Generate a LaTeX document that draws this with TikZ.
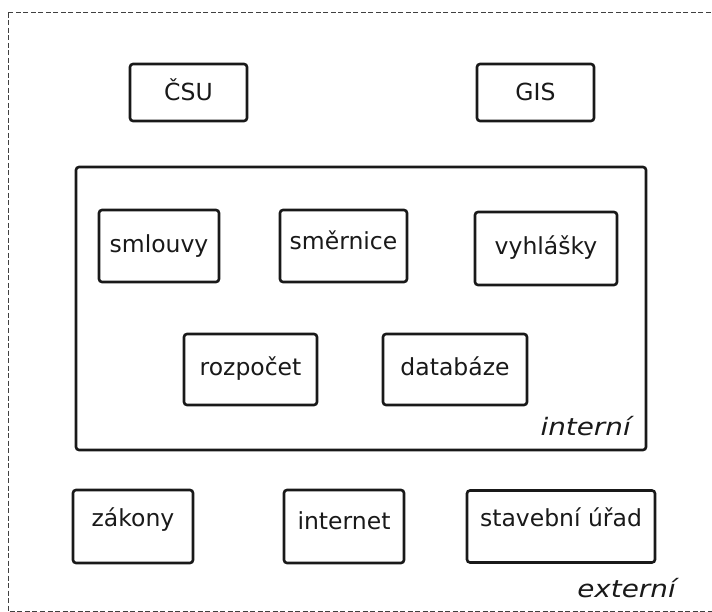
\documentclass[tikz,border=0pt]{standalone}
\usepackage{fontspec}
\setmainfont{DejaVu Sans}
\begin{document}
\begin{tikzpicture}[x=1pt,y=-1pt,
  box/.style={draw=black!90, line width=2.6pt, rounded corners=3pt, inner sep=0pt,
    text height=18pt, text depth=5.5pt,
    font=\fontsize{23.5}{26}\selectfont, text=black!90},
  up/.style={text depth=5.5pt+2*#1},
  down/.style={text height=18pt+2*#1},
  lbl/.style={inner sep=0pt, font=\fontsize{24}{26}\selectfont\itshape, text=black!90}]
\useasboundingbox (0,0) rectangle (712,612);
\begin{scope}
\clip (0,0) rectangle (712,612);
\draw[black!75, line width=1pt, dash pattern=on 5pt off 2.5pt] (8,13) rectangle (740,611);
\end{scope}
\node[box, down=2pt, minimum width=117pt, minimum height=57pt] (csu) at (188.5,92.5) {ČSU};
\node[box, down=2pt, minimum width=117pt, minimum height=57pt] (gis) at (535.5,92.5) {GIS};
\node[draw=black!90, line width=2.6pt, rounded corners=3pt, minimum width=570pt, minimum height=283pt, inner sep=0pt] (int) at (361,308.5) {};
\node[box, minimum width=120pt, minimum height=72pt] (sml) at (159,246) {smlouvy};
\node[box, up=3pt, minimum width=127pt, minimum height=72pt] (smer) at (343.5,246) {směrnice};
\node[box, minimum width=142pt, minimum height=73pt] (vyh) at (546,248.5) {vyhlášky};
\node[box, minimum width=133pt, minimum height=71pt] (roz) at (250.5,369.5) {rozpočet};
\node[box, minimum width=144pt, minimum height=71pt] (dat) at (455,369.5) {databáze};
\node[lbl, anchor=base east] (intl) at (631,435) {\scalebox{1.16}[1]{interní}};
\node[box, up=6pt, minimum width=120pt, minimum height=73pt] (zak) at (133,526.5) {zákony};
\node[box, up=3pt, minimum width=120pt, minimum height=73pt] (inet) at (344,526.5) {internet};
\node[box, up=6pt, minimum width=188pt, minimum height=72pt] (sta) at (561,526.5) {stavební úřad};
\node[lbl, anchor=base east] (extl) at (676,597) {\scalebox{1.16}[1]{externí}};
\end{tikzpicture}
\end{document}
